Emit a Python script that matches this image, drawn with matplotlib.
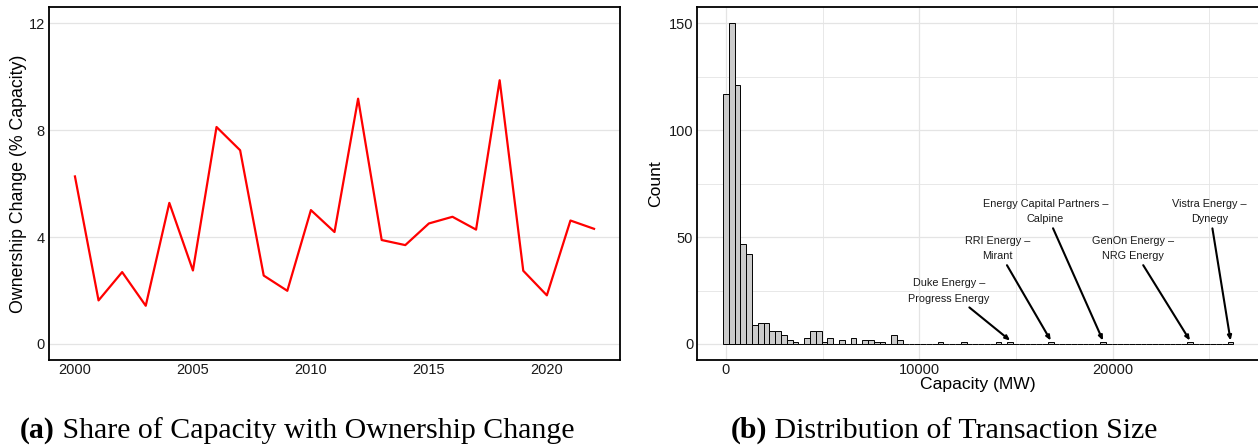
import matplotlib
matplotlib.use('Agg')
import matplotlib.pyplot as plt
from matplotlib.ticker import MultipleLocator
import numpy as np

plt.rcParams['font.family'] = ['Liberation Sans', 'DejaVu Sans']

# ---- data ----
years = list(range(2000, 2023))
ownership_change = [6.27, 1.63, 2.69, 1.43, 5.28, 2.75, 8.12, 7.25, 2.56, 1.99,
                    5.01, 4.19, 9.18, 3.89, 3.70, 4.51, 4.76, 4.28, 9.87, 2.74,
                    1.82, 4.62, 4.31]

bin_width = 300  # MW
hist_counts = [117, 150, 121, 47, 42, 9, 10, 10, 6, 6,
               4, 2, 1, 0, 3, 6, 6, 1, 3, 0,
               2, 0, 3, 0, 2, 2, 1, 1, 0, 4,
               2, 0, 0, 0, 0, 0, 0, 1, 0, 0,
               0, 1, 0, 0, 0, 0, 0, 1, 0, 1,
               0, 0, 0, 0, 0, 0, 1, 0, 0, 0,
               0, 0, 0, 0, 0, 1, 0, 0, 0, 0,
               0, 0, 0, 0, 0, 0, 0, 0, 0, 0,
               1, 0, 0, 0, 0, 0, 0, 1]

deal_names = ['Duke Energy –\nProgress Energy', 'RRI Energy –\nMirant',
              'Energy Capital Partners –\nCalpine', 'GenOn Energy –\nNRG Energy',
              'Vistra Energy –\nDynegy']
deal_capacity = [14700, 16800, 19500, 24000, 26100]
# label positions (data coords)
label_xy = [(11540, 24.8), (14030, 44.7), (16530, 62.0), (21045, 44.7), (25020, 62.0)]

W, H = 1258, 447
fig = plt.figure(figsize=(W / 100, H / 100), dpi=100)

grid_col = '#E4E4E4'


def style_axes(ax):
    for s in ax.spines.values():
        s.set_linewidth(1.3)
        s.set_color('black')
    ax.tick_params(length=0, labelsize=10.5, colors='#1a1a1a')
    ax.tick_params(axis='y', pad=3)
    ax.tick_params(axis='x', pad=2.5)
    ax.set_axisbelow(True)


# ===== panel (a) =====
ax1 = fig.add_axes([49 / W, (H - 360) / H, (620 - 49) / W, (360 - 7.3) / H])
ax1.plot(years, ownership_change, color='red', lw=1.6)
ax1.set_xlim(1998.9, 2023.1)
ax1.set_ylim(-0.6, 12.6)
ax1.set_xticks([2000, 2005, 2010, 2015, 2020])
ax1.set_yticks([0, 4, 8, 12])
ax1.yaxis.grid(True, color=grid_col, lw=0.9)
ax1.set_ylabel('Ownership Change (% Capacity)', fontsize=12.8, labelpad=1)
style_axes(ax1)

# ===== panel (b) =====
ax2 = fig.add_axes([697.3 / W, (H - 360) / H, 1 - 697.3 / W, (360 - 7.3) / H])
centers = np.arange(len(hist_counts)) * bin_width
ax2.bar(centers, hist_counts, width=bin_width, facecolor='#CBCBCB',
        edgecolor='black', linewidth=0.7)
ax2.set_xlim(-1483, 27520)
ax2.set_ylim(-7.5, 157.5)
ax2.set_xticks([0, 10000, 20000])
ax2.set_yticks([0, 50, 100, 150])
ax2.xaxis.set_minor_locator(MultipleLocator(5000))
ax2.yaxis.set_minor_locator(MultipleLocator(25))
ax2.grid(True, which='major', color=grid_col, lw=0.9)
ax2.grid(True, which='minor', color=grid_col, lw=0.6)
ax2.tick_params(which='minor', length=0)
ax2.spines['right'].set_visible(False)
ax2.set_ylabel('Count', fontsize=12.6, labelpad=4)
ax2.set_xlabel('Capacity (MW)', fontsize=12.6, labelpad=0)
style_axes(ax2)

for name, cap, (tx, ty) in zip(deal_names, deal_capacity, label_xy):
    ax2.annotate(name, xy=(cap, 1.6), xytext=(tx, ty), ha='center', va='center',
                 fontsize=7.8, linespacing=1.7, color='#1a1a1a',
                 arrowprops=dict(arrowstyle='-|>,head_length=0.35,head_width=0.15',
                                 color='black', lw=1.5, shrinkA=1, shrinkB=0))

# ===== captions =====
renderer = fig.canvas.get_renderer()


def caption(x_px, bold, rest):
    y = (H - 438) / H
    t = fig.text(x_px / W, y, bold, fontsize=21.5, fontweight='bold',
                 family='Liberation Serif', va='baseline', ha='left')
    bb = t.get_window_extent(renderer)
    fig.text(bb.x1 / W, y, ' ' + rest, fontsize=21.5, family='Liberation Serif',
             va='baseline', ha='left')


caption(20, '(a)', 'Share of Capacity with Ownership Change')
caption(731, '(b)', 'Distribution of Transaction Size')

fig.savefig('out.png', dpi=100)
